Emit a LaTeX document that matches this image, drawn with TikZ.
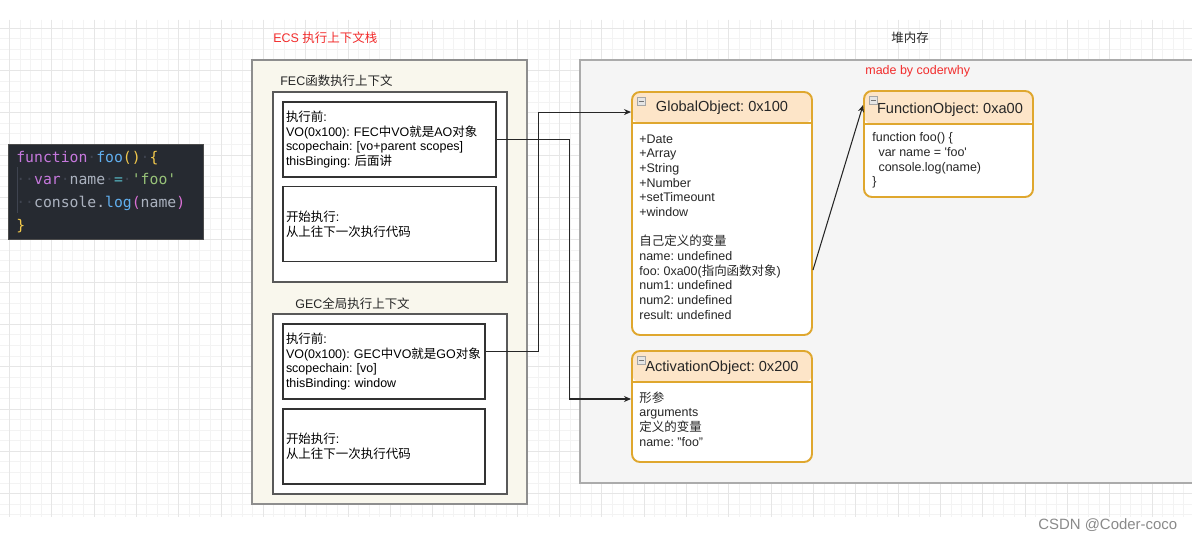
\documentclass[tikz,border=0pt]{standalone}
\usepackage{fontspec}
\setmainfont{Liberation Sans}
\newfontfamily\zhfont{Noto Sans CJK SC}
\newfontfamily\codefont{DejaVu Sans Mono}
\newcommand{\zh}[1]{{\zhfont #1}}
\usepackage{xcolor}
\usepackage{tikz}
\usetikzlibrary{arrows.meta, positioning}
\frenchspacing
\definecolor{gridlite}{HTML}{F3F3F3}
\definecolor{griddark}{HTML}{E6E6E6}
\definecolor{ecsfill}{HTML}{F9F7ED}
\definecolor{ecsline}{HTML}{8E8E8E}
\definecolor{heapfill}{HTML}{F5F5F5}
\definecolor{heapline}{HTML}{ABABAB}
\definecolor{objline}{HTML}{DFA72E}
\definecolor{objhead}{HTML}{FDE5C8}
\definecolor{codebg}{HTML}{262A31}
\definecolor{codekw}{HTML}{C678DD}
\definecolor{codefn}{HTML}{61AFEF}
\definecolor{codebr}{HTML}{F2C94C}
\definecolor{codepar}{HTML}{DA70D6}
\definecolor{codetx}{HTML}{ABB2BF}
\definecolor{codeop}{HTML}{56B6C2}
\definecolor{codestr}{HTML}{98C379}
\definecolor{codedim}{HTML}{3F4450}
\definecolor{redtxt}{HTML}{F22C2C}
\definecolor{marktxt}{HTML}{8A8A8A}
\newlength{\pxu}\setlength{\pxu}{0.02cm}
\newcommand{\ws}{\textcolor{codedim}{·}}
\tikzset{
  gridfine/.style={gridlite,line width=0.4pt},
  gridmain/.style={griddark,line width=0.4pt},
  txtfont/.style={font=\fontsize{7.1}{8.35}\selectfont},
  plainlabel/.style={txtfont,inner sep=0pt,text=black!85},
  redlabel/.style={plainlabel,text=redtxt},
  marklabel/.style={inner sep=0pt,text=marktxt,font=\fontsize{8.5}{10}\selectfont},
  stackbox/.style={draw=ecsline,fill=ecsfill,line width=1pt,inner sep=0pt,
    minimum width=275\pxu,minimum height=444\pxu},
  ctxbox/.style={draw=black!65,fill=white,line width=0.8pt,inner sep=0pt,minimum width=234\pxu},
  phasebox/.style={draw=black!80,fill=white,line width=0.6pt,txtfont,align=left,
    inner xsep=3\pxu,inner ysep=0pt,minimum height=75\pxu},
  heapbox/.style={draw=heapline,fill=heapfill,line width=1.1pt,inner sep=0pt,
    minimum width=620\pxu,minimum height=423\pxu},
  objbox/.style={draw=objline,fill=white,line width=1.1pt,rounded corners=8\pxu,inner sep=0pt,
    path picture={
      \fill[objhead] (path picture bounding box.north west) rectangle
        ([yshift=-#1]path picture bounding box.north east);
      \draw[objline,line width=1.1pt] ([yshift=-#1]path picture bounding box.north west) --
        ([yshift=-#1]path picture bounding box.north east);}},
  objtitle/.style={inner sep=0pt,text=black!85,font=\fontsize{8.3}{10}\selectfont},
  objtext/.style={txtfont,inner sep=0pt,align=left,text=black!85},
  foldmark/.style={draw=gray!70,fill=gray!20,line width=0.4pt,minimum size=8\pxu,inner sep=0pt,
    path picture={\draw[gray!90!black,line width=0.5pt]
      ([xshift=1.5\pxu]path picture bounding box.west) --
      ([xshift=-1.5\pxu]path picture bounding box.east);}},
  codebox/.style={draw=black!70,fill=codebg,line width=0.5pt,inner sep=0pt,
    minimum width=195\pxu,minimum height=95\pxu},
  codetext/.style={inner sep=0pt,align=left,text=codetx,font=\codefont\fontsize{8.4}{13}\selectfont},
  linkedge/.style={-{Stealth[length=4pt,width=3.4pt]},black!85,line width=0.6pt},
}

\begin{document}
\begin{tikzpicture}[x=0.02cm,y=-0.02cm]
  \useasboundingbox (0,0) rectangle (1192,540);
  \fill[white] (0,0) rectangle (1192,540);
  % background grid
  \foreach \k in {0,...,111} \draw[gridfine] (9.3+10.58*\k,20) -- (9.3+10.58*\k,517);
  \foreach \k in {0,...,46} \draw[gridfine] (0,28+10.58*\k) -- (1192,28+10.58*\k);
  \foreach \k in {0,...,27} \draw[gridmain] (9.3+42.32*\k,20) -- (9.3+42.32*\k,517);
  \foreach \k in {0,...,11} \draw[gridmain] (0,28+42.32*\k) -- (1192,28+42.32*\k);

  % code snippet
  \node[codebox] (code) at (105.5,191.5) {};
  \draw[codedim,line width=0.4pt] (17,167) -- (17,213);
  \node[codetext,anchor=west] (codelines) at (16,192) {%
    \textcolor{codekw}{function}\ws\textcolor{codefn}{foo}\textcolor{codebr}{()}\ws\textcolor{codebr}{\{}\\
    \ws\ws\textcolor{codekw}{var}\ws name\ws\textcolor{codeop}{=}\ws\textcolor{codestr}{\textquotesingle foo\textquotesingle}\\
    \ws\ws console.\textcolor{codefn}{log}\textcolor{codepar}{(}name\textcolor{codepar}{)}\\
    \textcolor{codebr}{\}}};

  % execution context stack
  \node[redlabel,anchor=west] (ecslabel) at (273,38) {ECS \zh{执行上下文栈}};
  \node[stackbox] (ecs) at (389.5,282) {};
  \node[plainlabel,anchor=west] (feclabel) at (280,81) {FEC\zh{函数执行上下文}};
  \node[ctxbox,minimum height=190\pxu] (fec) at (390,187) {};
  \node[phasebox,minimum width=213\pxu,text width=207\pxu] (fecpre) at (389.5,139.5)
    {\zh{执行前}:\\VO(0x100): FEC\zh{中}VO\zh{就是}AO\zh{对象}\\scopechain: [vo+parent scopes]\\thisBinging: \zh{后面讲}};
  \node[phasebox,minimum width=213\pxu,text width=207\pxu] (fecrun) at (389.5,224)
    {\zh{开始执行}:\\\zh{从上往下一次执行代码}};
  \node[plainlabel,anchor=west] (geclabel) at (295,304) {GEC\zh{全局执行上下文}};
  \node[ctxbox,minimum height=180\pxu] (gec) at (390,404) {};
  \node[phasebox,minimum width=202\pxu,text width=196\pxu] (gecpre) at (384,361.5)
    {\zh{执行前}:\\\mbox{VO(0x100): GEC\zh{中}VO\zh{就是}GO\zh{对象}}\\scopechain: [vo]\\thisBinding: window};
  \node[phasebox,minimum width=202\pxu,text width=196\pxu] (gecrun) at (384,446.5)
    {\zh{开始执行}:\\\zh{从上往下一次执行代码}};

  % heap
  \node[plainlabel] (heaplabel) at (910,38) {\zh{堆内存}};
  \node[heapbox] (heap) at (890,271.5) {};
  \node[redlabel,anchor=west] (credit) at (865,71) {made by coderwhy};

  \node[objbox=31\pxu,minimum width=180\pxu,minimum height=243\pxu] (gobj) at (722,213.5) {};
  \node[foldmark] (gobjfold) at ([xshift=10\pxu,yshift=-10\pxu]gobj.north west) {};
  \node[objtitle] (gobjtitle) at (722,108) {GlobalObject: 0x100};
  \node[objtext,anchor=west] (gobjtext) at (639,227)
    {+Date\\+Array\\+String\\+Number\\+setTimeount\\+window\\[8.35pt]\zh{自己定义的变量}\\name: undefined\\foo: 0xa00(\zh{指向函数对象})\\num1: undefined\\num2: undefined\\result: undefined};

  \node[objbox=31\pxu,minimum width=180\pxu,minimum height=111\pxu] (aobj) at (722,406.5) {};
  \node[foldmark] (aobjfold) at ([xshift=10\pxu,yshift=-10\pxu]aobj.north west) {};
  \node[objtitle] (aobjtitle) at (722,368) {ActivationObject: 0x200};
  \node[objtext,anchor=west] (aobjtext) at (639,419)
    {\zh{形参}\\arguments\\\zh{定义的变量}\\name: "foo"};

  \node[objbox=33\pxu,minimum width=169\pxu,minimum height=106\pxu] (fobj) at (948.5,144) {};
  \node[foldmark] (fobjfold) at ([xshift=10\pxu,yshift=-10\pxu]fobj.north west) {};
  \node[objtitle] (fobjtitle) at (950,110) {FunctionObject: 0xa00};
  \node[objtext,anchor=west] (fobjtext) at (872,160.5)
    {function foo() \{\\\hspace*{3.5pt}var name = \textquotesingle foo\textquotesingle\\\hspace*{3.5pt}console.log(name)\\\}};

  % references
  \draw[linkedge] (fecpre.east) -- ++(73,0) |- ([yshift=7.5\pxu]aobj.west);
  \draw[linkedge] ([yshift=10\pxu]gecpre.east) -- ++(53,0) |- ([yshift=-21\pxu]gobj.north west);
  \draw[linkedge] ([yshift=-56.5\pxu]gobj.east) -- ([yshift=-15\pxu]fobj.north west);

  \node[marklabel,anchor=west] (mark) at (1038,525) {CSDN @Coder-coco};
\end{tikzpicture}
\end{document}
